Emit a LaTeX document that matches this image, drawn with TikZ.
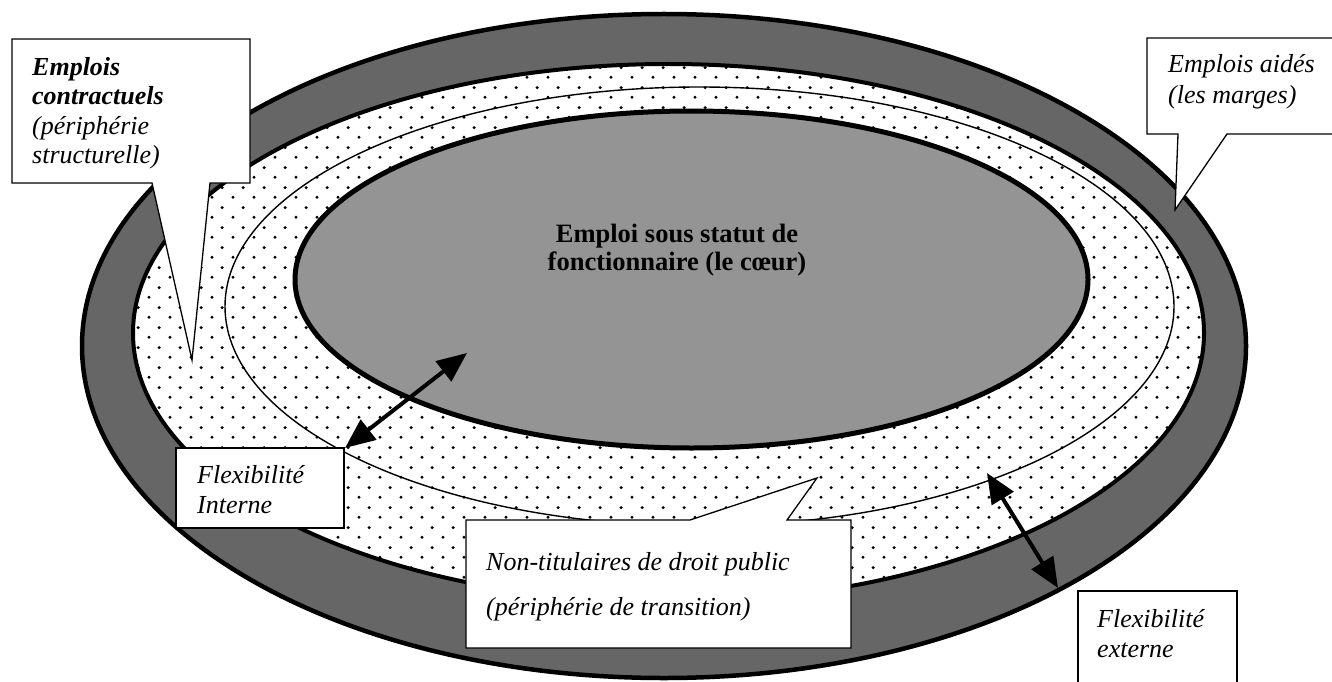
\documentclass[tikz,border=0pt]{standalone}
\usepackage{fontspec}
\setmainfont{Liberation Serif}
\usetikzlibrary{arrows.meta,patterns}
\pgfdeclarepatternformonly{stagdots}{\pgfqpoint{0pt}{0pt}}{\pgfqpoint{20.6pt}{20pt}}{\pgfqpoint{20.6pt}{20pt}}{%
  \pgfpathcircle{\pgfqpoint{5.15pt}{5pt}}{1.7pt}%
  \pgfpathcircle{\pgfqpoint{15.45pt}{15pt}}{1.7pt}%
  \pgfusepath{fill}}
\begin{document}
\begin{tikzpicture}[x=1pt,y=-1pt,
  bandfill/.style={fill=black!60, draw=black, line width=4.5pt},
  ringfill/.style={fill=white, draw=black, line width=4pt, postaction={pattern=stagdots}},
  thinring/.style={draw=black, line width=1.4pt},
  corefill/.style={fill=black!42, draw=black, line width=5pt},
  callout/.style={fill=white, draw=black, line width=1.3pt, line join=miter},
  lab/.style={font=\fontsize{26}{30}\selectfont\itshape, inner sep=0pt, anchor=base west},
  labb/.style={font=\fontsize{26}{30}\selectfont\bfseries\itshape, inner sep=0pt, anchor=base west},
  coretext/.style={font=\fontsize{26.5}{28}\selectfont\bfseries, inner sep=0pt, anchor=base},
  dbl/.style={{Triangle[length=30pt,width=25pt]}-{Triangle[length=30pt,width=25pt]}, line width=4pt}
]
\useasboundingbox (0,0) rectangle (1332,682);
\fill[white] (0,0) rectangle (1332,682);

% rings
\draw[bandfill] (664,346) ellipse [x radius=582pt, y radius=332pt];
\draw[ringfill] (668.5,333) ellipse [x radius=535.5pt, y radius=269pt];
\draw[thinring] (699.5,306.5) ellipse [x radius=474.5pt, y radius=219.5pt];
\draw[corefill] (691.5,279.5) ellipse [x radius=396.5pt, y radius=168.5pt];

% core text
\node[coretext] (core1) at (677,242) {Emploi sous statut de};
\node[coretext] (core2) at (677,270) {fonctionnaire (le cœur)};

% callout: emplois contractuels
\draw[callout] (12,39) -- (250,39) -- (250,183) -- (210,183) -- (192,360) -- (152,183) -- (12,183) -- cycle;
\node[labb] (ec1) at (32,76) {Emplois};
\node[labb] (ec2) at (32,105) {contractuels};
\node[lab] (ec3) at (32,135) {(périphérie};
\node[lab] (ec4) at (32,163) {structurelle)};

% callout: emplois aides
\draw[callout] (1147,38) -- (1345,38) -- (1345,134) -- (1227,134) -- (1175,210) -- (1178,134) -- (1147,134) -- cycle;
\node[lab] (ea1) at (1168,73) {Emplois aidés};
\node[lab] (ea2) at (1168,103) {(les marges)};

% callout: non-titulaires
\draw[callout] (466,520) -- (690,520) -- (817,478) -- (787,520) -- (851,520) -- (851,648) -- (466,648) -- cycle;
\node[lab] (nt1) at (486,570) {Non-titulaires de droit public};
\node[lab] (nt2) at (486,615) {(périphérie de transition)};

% box: flexibilite interne
\draw[callout] (176,448) rectangle (344,528);
\node[lab] (fi1) at (197,483) {Flexibilité};
\node[lab] (fi2) at (197,513) {Interne};

% box: flexibilite externe
\draw[callout] (1078,591) rectangle (1237,690);
\node[lab] (fe1) at (1097,627) {Flexibilité};
\node[lab] (fe2) at (1097,657) {externe};

% arrows
\coordinate (ia) at (345,448);
\coordinate (ib) at (467,353);
\draw[dbl] (ia) -- (ib);
\coordinate (xa) at (987,473);
\coordinate (xb) at (1058,588);
\draw[dbl] (xa) -- (xb);
\end{tikzpicture}
\end{document}
